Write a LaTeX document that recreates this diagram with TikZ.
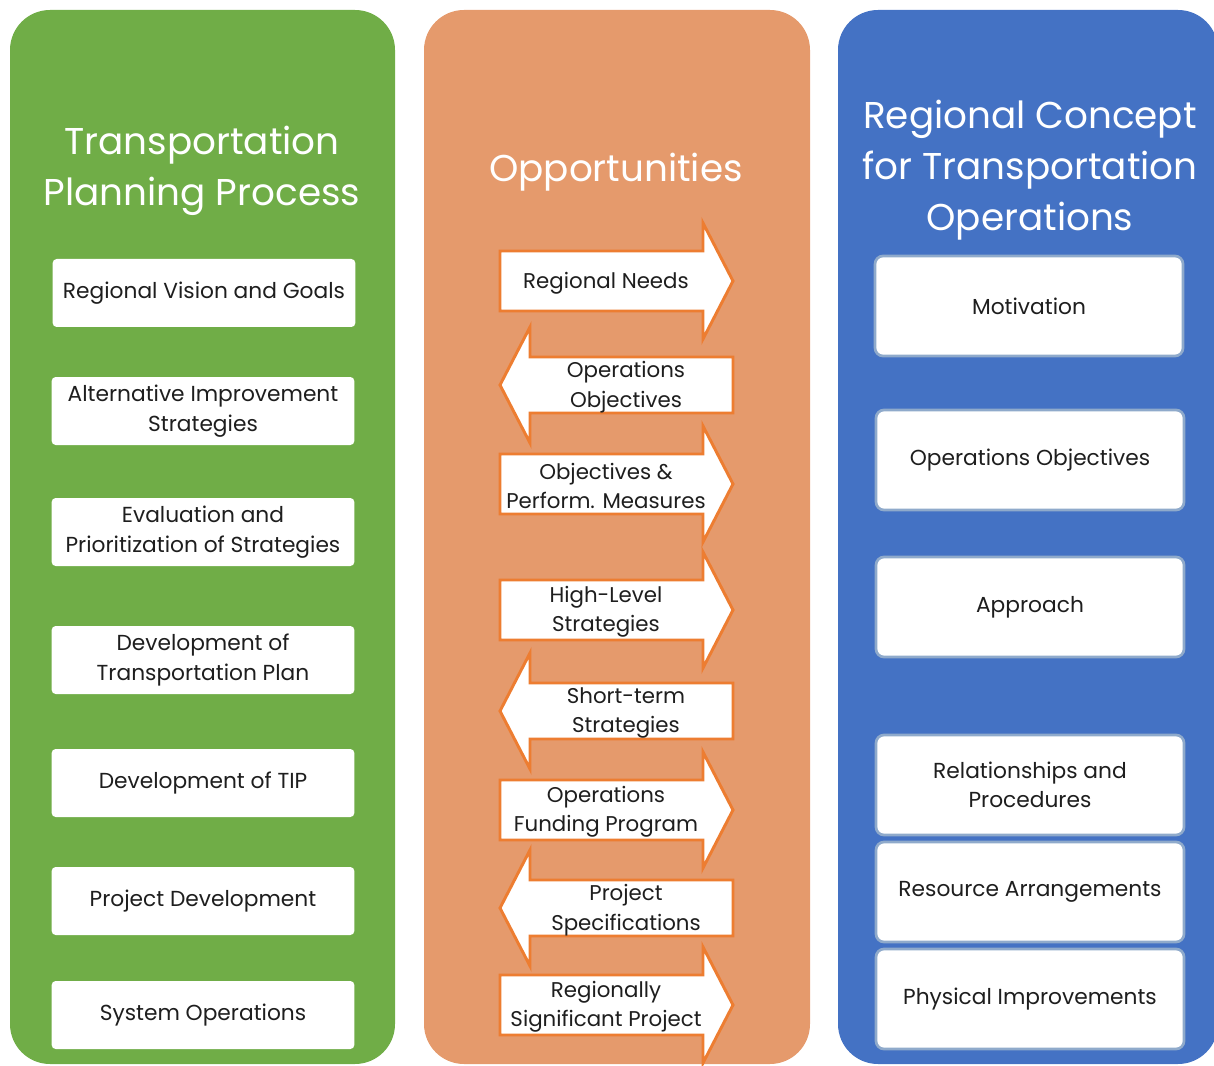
\documentclass[tikz,border=0pt]{standalone}
\usepackage{fontspec}
\setmainfont{Poppins}
\usepackage{tikz}
\usepackage{xcolor}

\definecolor{tppgreen}{HTML}{70AD47}
\definecolor{opporange}{HTML}{E59A6C}
\definecolor{oppedge}{HTML}{ED7D31}
\definecolor{rctoblue}{HTML}{4472C4}
\definecolor{rctoedge}{HTML}{8FAACB}
\definecolor{textdark}{HTML}{1E1E1E}

% block arrows of the middle column: name, y centre, text
\newcommand{\opprarrow}[3]{%
  \draw[opparrow] (500,#2-30) -- (703,#2-30) -- (703,#2-58) -- (733,#2)
    -- (703,#2+58) -- (703,#2+30) -- (500,#2+30) -- cycle;
  \node[opptext] (#1) at (606,#2+2) {#3};}
\newcommand{\opplarrow}[3]{%
  \draw[opparrow] (733,#2-28) -- (530,#2-28) -- (530,#2-58) -- (500,#2)
    -- (530,#2+58) -- (530,#2+28) -- (733,#2+28) -- cycle;
  \node[opptext] (#1) at (626,#2+2) {#3};}

\begin{document}
\begin{tikzpicture}[x=0.75pt, y=-0.75pt,
    panel/.style={rounded corners=30pt},
    paneltitle/.style={text=white, align=center, font=\fontsize{28}{38.5}\selectfont},
    tppbox/.style={fill=white, rounded corners=3pt, minimum width=227pt,
      minimum height=51pt, align=center, text=textdark,
      font=\fontsize{16.3}{22}\selectfont},
    rctobox/.style={tppbox, draw=rctoedge, line width=2pt, rounded corners=6pt,
      minimum width=231pt, minimum height=75pt},
    opparrow/.style={fill=white, draw=oppedge, line width=2.2pt},
    opptext/.style={align=center, text=textdark, font=\fontsize{16}{22}\selectfont}]
    \useasboundingbox (0,0) rectangle (1214,1066);

    % three columns
    \fill[panel, tppgreen] (10,10) rectangle (395,1064);
    \fill[panel, opporange] (424,10) rectangle (810,1064);
    \fill[panel, rctoblue] (838,10) rectangle (1218,1064);

    \node[paneltitle] (tpptitle) at (202,171) {Transportation\\Planning Process};
    \node[paneltitle] (opptitle) at (616,172) {Opportunities};
    \node[paneltitle] (rctotitle) at (1030,170) {Regional Concept\\for Transportation\\Operations};

    % transportation planning process
    \node[tppbox] (vision) at (204,293) {Regional Vision and Goals};
    \node[tppbox] (altstrat) at (203,411) {Alternative Improvement\\Strategies};
    \node[tppbox] (evaluation) at (203,532) {Evaluation and\\Prioritization of Strategies};
    \node[tppbox] (plan) at (203,660) {Development of\\Transportation Plan};
    \node[tppbox] (tip) at (203,783) {Development of TIP};
    \node[tppbox] (projdev) at (203,901) {Project Development};
    \node[tppbox] (sysops) at (203,1015) {System Operations};

    % opportunities
    \opprarrow{needs}{281}{Regional Needs}
    \opplarrow{opsobj}{385}{Operations\\Objectives}
    \opprarrow{measures}{484}{Objectives \&\\Perform. Measures}
    \opprarrow{highlevel}{610}{High-Level\\Strategies}
    \opplarrow{shortterm}{711}{Short-term\\Strategies}
    \opprarrow{funding}{810}{Operations\\Funding Program}
    \opplarrow{projspec}{908}{Project\\Specifications}
    \opprarrow{significant}{1005}{Regionally\\Significant Project}

    % regional concept for transportation operations
    \node[rctobox] (motivation) at (1029,306) {Motivation};
    \node[rctobox] (rctoobj) at (1030,460) {Operations Objectives};
    \node[rctobox] (approach) at (1030,607) {Approach};
    \node[rctobox] (relations) at (1030,785) {Relationships and\\Procedures};
    \node[rctobox] (resources) at (1030,892) {Resource Arrangements};
    \node[rctobox] (physical) at (1030,999) {Physical Improvements};
\end{tikzpicture}
\end{document}
